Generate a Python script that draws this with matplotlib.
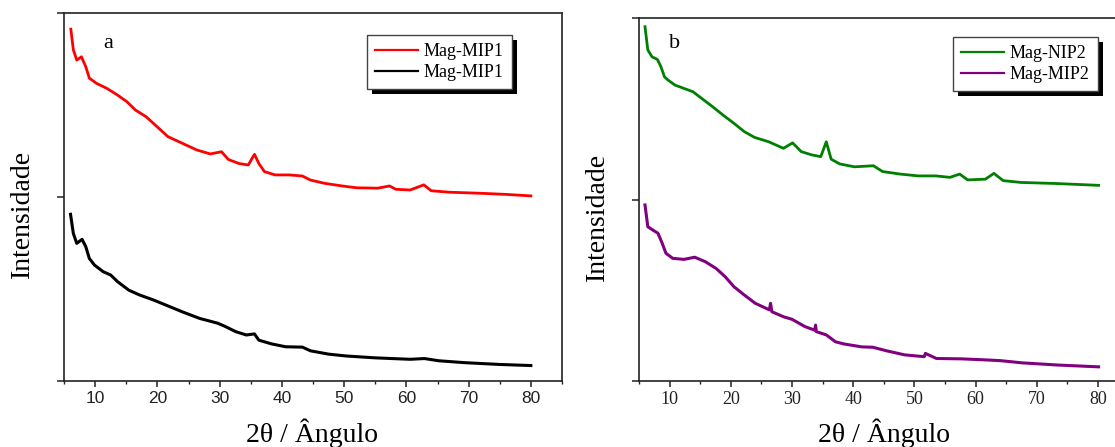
import matplotlib
matplotlib.use("Agg")
import matplotlib.pyplot as plt
from matplotlib.patches import Rectangle
from matplotlib.ticker import FixedLocator, NullFormatter

# ---------------- data ----------------
red_x = [6.1, 6.5, 7.05, 7.8, 8.5, 9.07, 10.2, 11.9, 13.6, 15.1, 16.5, 18.2, 19.95, 21.7, 24.0,
         26.3, 28.5, 30.3, 31.4, 33.1, 34.6, 35.6, 36.3, 37.2, 38.9, 41.2, 43.3, 44.6, 46.9,
         49.7, 52.0, 55.4, 57.3, 58.3, 60.6, 62.8, 64.0, 66.9, 72.1, 76.1, 80.0]
red_y = [95.6, 90.0, 87.2, 88.1, 85.4, 82.3, 80.9, 79.5, 77.7, 75.9, 73.6, 71.8, 69.1, 66.4, 64.6,
         62.8, 61.7, 62.3, 60.2, 59.1, 58.7, 61.6, 59.1, 56.9, 56.0, 56.0, 55.7, 54.6, 53.7,
         53.0, 52.5, 52.4, 53.0, 52.1, 51.9, 53.3, 51.7, 51.3, 51.0, 50.7, 50.3]

black_x = [6.05, 6.5, 7.05, 7.9, 8.5, 9.07, 9.9, 11.3, 12.5, 13.6, 15.4, 17.1, 19.4, 21.7, 24.0,
           26.8, 29.7, 30.8, 32.6, 34.3, 35.6, 36.3, 38.3, 40.6, 43.3, 44.6, 47.5, 50.3, 54.9,
           57.7, 60.6, 62.9, 65.2, 69.2, 74.9, 80.0]
black_y = [45.3, 40.1, 37.4, 38.5, 36.5, 33.3, 31.5, 29.7, 28.8, 27.0, 24.7, 23.4, 22.0, 20.4, 18.8,
           17.0, 15.7, 14.9, 13.4, 12.5, 12.8, 11.1, 10.1, 9.3, 9.2, 8.2, 7.3, 6.8, 6.3,
           6.1, 5.9, 6.1, 5.5, 5.0, 4.5, 4.2]

green_x = [5.98, 6.44, 7.13, 8.0, 8.58, 9.16, 9.74, 10.9, 12.35, 13.8, 15.2, 17.0, 18.7, 20.5, 22.2,
           23.9, 26.2, 28.6, 30.1, 31.5, 33.2, 34.7, 35.6, 36.4, 37.8, 40.2, 43.3, 44.8, 47.7,
           50.6, 53.5, 55.8, 57.4, 58.7, 61.6, 63.0, 64.5, 67.4, 73.2, 80.1]
green_y = [97.6, 91.2, 89.3, 88.6, 86.6, 83.8, 82.9, 81.5, 80.6, 79.7, 77.9, 75.6, 73.3, 71.0, 68.7,
           67.1, 65.9, 64.1, 65.6, 63.2, 62.3, 61.8, 65.9, 61.1, 59.8, 59.0, 59.3, 57.7, 57.0,
           56.5, 56.5, 56.1, 57.0, 55.4, 55.6, 57.2, 55.2, 54.7, 54.4, 53.9]

purple_x = [5.98, 6.44, 7.25, 8.1, 8.8, 9.4, 10.5, 12.35, 14.1, 15.8, 17.6, 19.1, 20.5, 22.2, 24.0,
            26.3, 26.5, 26.7, 28.6, 30.0, 32.1, 33.7, 33.85, 33.97, 35.6, 37.1, 38.5, 41.4, 43.2,
            45.5, 48.4, 51.6, 51.8, 53.6, 57.7, 61.8, 64.1, 67.6, 73.4, 80.1]
purple_y = [48.5, 42.5, 41.6, 40.7, 37.9, 35.2, 33.8, 33.5, 34.1, 32.9, 31.0, 28.7, 26.0, 23.7, 21.4,
            19.6, 21.4, 19.1, 17.7, 17.0, 15.0, 14.0, 15.4, 13.6, 12.7, 10.8, 10.2, 9.4, 9.3,
            8.3, 7.2, 6.7, 7.6, 6.2, 6.1, 5.8, 5.6, 5.0, 4.4, 3.9]

labels_a = ["Mag-MIP1", "Mag-MIP1"]
labels_b = ["Mag-NIP2", "Mag-MIP2"]
x_ticks = [10, 20, 30, 40, 50, 60, 70, 80]
x_minor = [5, 15, 25, 35, 45, 55, 65, 75, 85]
y_ticks = [0, 50, 100]

SERIF = ["Liberation Serif", "DejaVu Serif"]
SANS = ["Liberation Sans", "DejaVu Sans"]

fig = plt.figure(figsize=(11.15, 4.47), dpi=100)
W, H = 1115.0, 447.0

def px_axes(l, t, r, b):
    return [l / W, 1 - b / H, (r - l) / W, (b - t) / H]

ax_a = fig.add_axes(px_axes(64, 13, 562, 381))
ax_b = fig.add_axes(px_axes(639, 18, 1128.6, 381))

def style(ax, xmax, tickfont, tsize):
    ax.set_xlim(5, xmax)
    ax.set_ylim(0, 100)
    ax.xaxis.set_major_locator(FixedLocator(x_ticks))
    ax.xaxis.set_minor_locator(FixedLocator(x_minor))
    ax.yaxis.set_major_locator(FixedLocator(y_ticks))
    ax.yaxis.set_major_formatter(NullFormatter())
    for s in ax.spines.values():
        s.set_linewidth(1.2)
        s.set_color("#222222")
    ax.tick_params(axis="x", which="major", direction="out", length=4.5, width=1.1,
                   color="#222222", pad=3, labelsize=tsize)
    ax.tick_params(axis="x", which="minor", direction="out", length=2.3, width=1.0,
                   color="#222222")
    ax.tick_params(axis="y", which="major", direction="out", length=5.0, width=1.1,
                   color="#222222")
    for lab in ax.get_xticklabels():
        lab.set_family(tickfont)
        lab.set_color("#222222")

style(ax_a, 85, SANS, 12.5)
style(ax_b, 85, SERIF, 13)

la1, = ax_a.plot(red_x, red_y, color="#ff0000", lw=2.0)
la2, = ax_a.plot(black_x, black_y, color="#000000", lw=2.2)
lb1, = ax_b.plot(green_x, green_y, color="#008000", lw=2.0)
lb2, = ax_b.plot(purple_x, purple_y, color="#800080", lw=2.2)

def make_legend(ax, handles, labels, anchor):
    leg = ax.legend(handles, labels, loc="upper left", bbox_to_anchor=anchor,
                    borderaxespad=0, frameon=True, fancybox=False, framealpha=1,
                    edgecolor="#444444", prop={"family": SERIF, "size": 13},
                    handlelength=2.4, handletextpad=0.3, labelspacing=0.22,
                    borderpad=0.45)
    leg.get_frame().set_linewidth(1.0)
    for h in leg.legend_handles:
        h.set_linewidth(1.6)
    leg.set_zorder(6)
    return leg

leg_a = make_legend(ax_a, [la1, la2], labels_a, (0.608, 0.94))
leg_b = make_legend(ax_b, [lb1, lb2], labels_b, (0.641, 0.948))

ax_a.text(0.088, 0.918, "a", transform=ax_a.transAxes, fontsize=16, family=SERIF,
          ha="center", va="center")
ax_b.text(0.0735, 0.931, "b", transform=ax_b.transAxes, fontsize=16, family=SERIF,
          ha="center", va="center")

fig.text(312 / W, 1 - 433 / H, "2θ / Ângulo", family=SERIF, fontsize=20,
         ha="center", va="center")
fig.text(884 / W, 1 - 433 / H, "2θ / Ângulo", family=SERIF, fontsize=20,
         ha="center", va="center")
fig.text(22 / W, 1 - 214 / H, "Intensidade", family=SERIF, fontsize=20,
         ha="center", va="center", rotation=90)
fig.text(597 / W, 1 - 217 / H, "Intensidade", family=SERIF, fontsize=20,
         ha="center", va="center", rotation=90)

# legend drop shadows (solid black, offset down-right), drawn just below the legend
fig.canvas.draw()
for ax, leg in ((ax_a, leg_a), (ax_b, leg_b)):
    bb = leg.get_window_extent()
    off = 5
    rect = Rectangle(((bb.x0 + off) / W, (bb.y0 - off) / H), bb.width / W, bb.height / H,
                     transform=fig.transFigure, facecolor="black", edgecolor="none",
                     zorder=5, clip_on=False)
    ax.add_patch(rect)

fig.savefig("out.png", dpi=100)
